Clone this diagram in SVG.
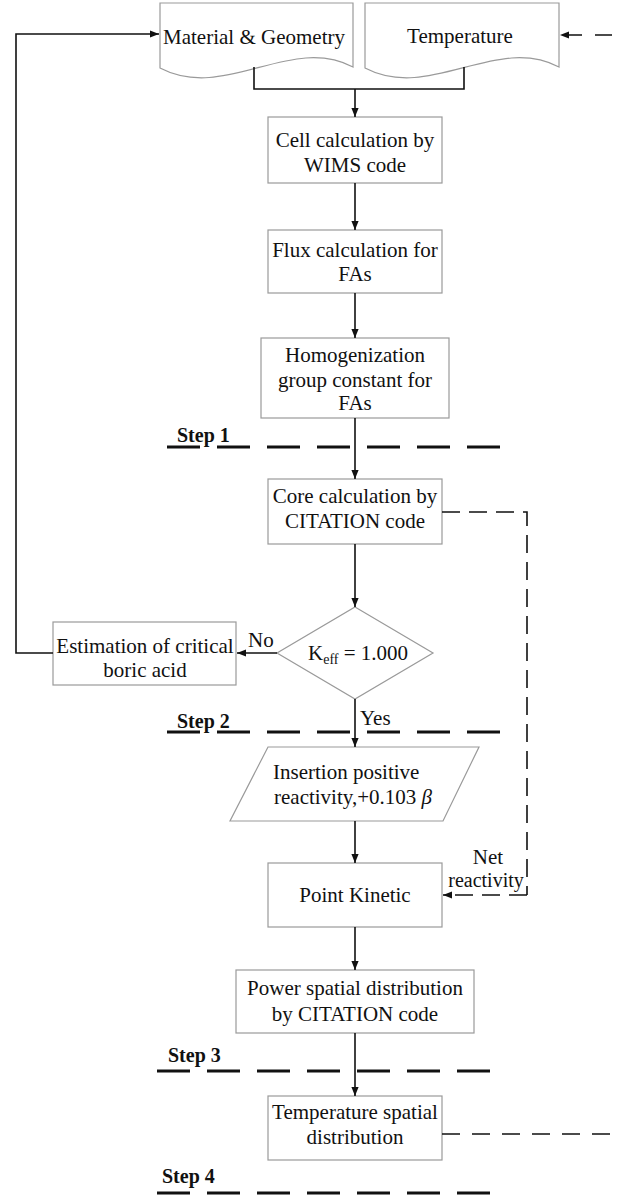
<svg xmlns="http://www.w3.org/2000/svg" width="619" height="1197" viewBox="0 0 619 1197">
<defs>
<marker id="ah" viewBox="0 0 10 10" refX="10" refY="5" markerWidth="9" markerHeight="9" markerUnits="userSpaceOnUse" orient="auto">
<path d="M0,1 L10,5 L0,9 z" fill="#111"/>
</marker>
</defs>
<style>
.shape{fill:#fff;stroke:#9a9a9a;stroke-width:1.2}
.t{font-family:"Liberation Serif","Times New Roman",serif;font-size:21px;fill:#111;text-anchor:middle}
.ts{font-family:"Liberation Serif","Times New Roman",serif;font-size:21px;fill:#111}
.step{font-family:"Liberation Serif","Times New Roman",serif;font-size:20px;font-weight:bold;fill:#111}
.c{fill:none;stroke:#111;stroke-width:1.6}
.ca{fill:none;stroke:#111;stroke-width:1.6;marker-end:url(#ah)}
.d{fill:none;stroke:#111;stroke-width:1.6;stroke-dasharray:18 9}
.da{fill:none;stroke:#111;stroke-width:1.6;stroke-dasharray:18 9;marker-end:url(#ah)}
.sl{fill:none;stroke:#111;stroke-width:3;stroke-dasharray:33 17}
</style>
<rect width="619" height="1197" fill="#fff"/>

<g id="material">
<path class="shape" d="M160,3 H353 V67 C290,34 225,102 160,68 Z"/>
<text class="t" x="254" y="44">Material &amp; Geometry</text>
</g>
<g id="temperature">
<path class="shape" d="M365,3 H559 V67 C496,34 430,102 365,68 Z"/>
<text class="t" x="460" y="43">Temperature</text>
</g>
<g id="cell">
<rect class="shape" x="268" y="117" width="174" height="66"/>
<text class="t" x="355" y="147">Cell calculation by</text>
<text class="t" x="355" y="172">WIMS code</text>
</g>
<g id="flux">
<rect class="shape" x="268" y="230" width="174" height="63"/>
<text class="t" x="355" y="257">Flux calculation for</text>
<text class="t" x="355" y="281">FAs</text>
</g>
<g id="homog">
<rect class="shape" x="261" y="338" width="188" height="80"/>
<text class="t" x="355" y="362">Homogenization</text>
<text class="t" x="355" y="387">group constant for</text>
<text class="t" x="355" y="410">FAs</text>
</g>
<g id="step1">
<text class="step" x="177" y="442">Step 1</text>
<line class="sl" x1="167" y1="447" x2="501" y2="447"/>
</g>
<g id="core">
<rect class="shape" x="268" y="479" width="174" height="65"/>
<text class="t" x="355" y="503">Core calculation by</text>
<text class="t" x="355" y="528">CITATION code</text>
</g>
<g id="keff">
<path class="shape" d="M355,607 L433,653 L355,699 L277,653 Z"/>
<text class="ts" x="308" y="660">K<tspan font-size="14" dy="4">eff</tspan><tspan dy="-4"> = 1.000</tspan></text>
</g>
<g id="estimation">
<rect class="shape" x="53" y="622" width="183" height="63"/>
<text class="t" x="145" y="653">Estimation of critical</text>
<text class="t" x="145" y="677">boric acid</text>
</g>
<g id="step2">
<text class="step" x="177" y="728">Step 2</text>
<line class="sl" x1="167" y1="732" x2="501" y2="732"/>
</g>
<g id="insertion">
<path class="shape" d="M268,747 H479 L443,821 H230 Z"/>
<text class="ts" x="273" y="779">Insertion positive</text>
<text class="ts" x="274" y="804">reactivity,+0.103 <tspan font-style="italic">β</tspan></text>
</g>
<g id="pointkinetic">
<rect class="shape" x="268" y="863" width="174" height="64"/>
<text class="t" x="355" y="902">Point Kinetic</text>
</g>
<g id="power">
<rect class="shape" x="236" y="970" width="238" height="63"/>
<text class="t" x="355" y="995">Power spatial distribution</text>
<text class="t" x="355" y="1021">by CITATION code</text>
</g>
<g id="step3">
<text class="step" x="168" y="1062">Step 3</text>
<line class="sl" x1="157" y1="1071" x2="491" y2="1071"/>
</g>
<g id="tempspatial">
<rect class="shape" x="268" y="1096" width="174" height="64"/>
<text class="t" x="355" y="1119">Temperature spatial</text>
<text class="t" x="355" y="1144">distribution</text>
</g>
<g id="step4">
<text class="step" x="162" y="1183">Step 4</text>
<line class="sl" x1="157" y1="1193" x2="491" y2="1193"/>
</g>

<g id="connectors">
<path class="c" d="M254,67 V89 H464 V67"/>
<path class="ca" d="M355,89 V117"/>
<path class="ca" d="M355,183 V230"/>
<path class="ca" d="M355,293 V338"/>
<path class="ca" d="M355,418 V479"/>
<path class="ca" d="M355,544 V607"/>
<path class="ca" d="M277,653 H237"/>
<text class="ts" x="248" y="647">No</text>
<path class="ca" d="M53,653 H16 V34 H159"/>
<path class="ca" d="M355,699 V747"/>
<text class="ts" x="360" y="725">Yes</text>
<path class="ca" d="M355,821 V863"/>
<path class="d" d="M442,512 H527 V895"/>
<path class="da" d="M527,895 H443"/>
<text class="t" x="488" y="864" font-size="20">Net</text>
<text class="t" x="486" y="887" style="font-size:20px">reactivity</text>
<path class="ca" d="M355,927 V970"/>
<path class="ca" d="M355,1033 V1096"/>
<path class="c" d="M442,1134 H619" stroke-dasharray="18 12"/>
<path class="ca" d="M612,35 H560" stroke-dasharray="17 13"/>
</g>
</svg>
